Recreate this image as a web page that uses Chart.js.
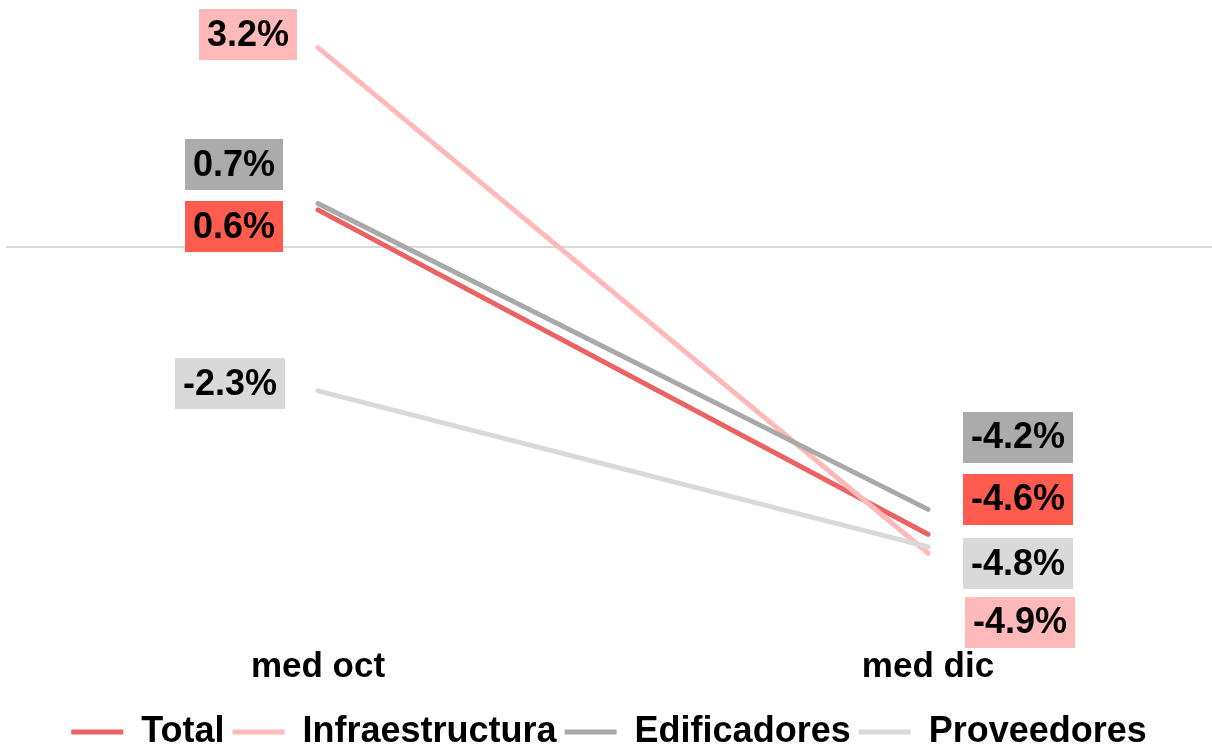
<!DOCTYPE html>
<html lang="es">
<head>
    <meta charset="UTF-8">
    <title>Variación por segmento</title>
    <script src="https://cdn.jsdelivr.net/npm/chart.js"></script>
    <style>
        html, body {
            margin: 0;
            padding: 0;
            background: #fff;
            overflow: hidden;
        }
        #wrap {
            position: relative;
            width: 1212px;
            height: 760px;
        }
    </style>
</head>
<body>
    <div id="wrap">
        <canvas id="myChart"></canvas>
    </div>

    <script>
        // data
        const categories = ['med oct', 'med dic'];
        const seriesNames = ['Total', 'Infraestructura', 'Edificadores', 'Proveedores'];
        const total = [0.6, -4.6];
        const infraestructura = [3.2, -4.9];
        const edificadores = [0.7, -4.2];
        const proveedores = [-2.3, -4.8];

        const lineColors = ['#EB6262', '#FFB9B9', '#A9A9A9', '#D9D9D9'];
        const boxColors = ['#FF5B4F', '#FFB9B9', '#ABABAB', '#D9D9D9'];

        // where each label box sits, relative to its point (box centre, px)
        const labelShift = [
            [[-84, 17], [90, -35]],
            [[-70, -13], [92, 69]],
            [[-84, -39], [90, -72]],
            [[-88, -7], [90, 17]]
        ];

        const FONT = '"Liberation Sans", Arial, sans-serif';

        const labelPlugin = {
            id: 'boxLabels',
            afterDatasetsDraw(chart) {
                const c = chart.ctx;
                c.save();
                c.font = 'bold 36px ' + FONT;
                c.textAlign = 'center';
                c.textBaseline = 'middle';
                chart.data.datasets.forEach((ds, i) => {
                    const meta = chart.getDatasetMeta(i);
                    meta.data.forEach((pt, j) => {
                        const txt = ds.data[j].y.toFixed(1) + '%';
                        const cx = pt.x + labelShift[i][j][0];
                        const cy = pt.y + labelShift[i][j][1];
                        const w = c.measureText(txt).width + 16;
                        const h = 51;
                        c.fillStyle = boxColors[i];
                        c.fillRect(Math.round(cx - w / 2), Math.round(cy - h / 2), Math.round(w), h);
                        c.fillStyle = '#000';
                        c.fillText(txt, cx, cy + 1);
                    });
                });
                c.restore();
            }
        };

        const allSeries = [total, infraestructura, edificadores, proveedores];
        const datasets = allSeries.map((vals, i) => ({
            label: seriesNames[i],
            data: vals.map((v, j) => ({ x: j, y: v })),
            borderColor: lineColors[i],
            backgroundColor: lineColors[i],
            borderWidth: 5,
            borderCapStyle: 'round',
            pointRadius: 0,
            pointHoverRadius: 0,
            tension: 0,
            order: 4 - i
        }));

        const ctx = document.getElementById('myChart').getContext('2d');
        const myChart = new Chart(ctx, {
            type: 'line',
            data: { datasets: datasets },
            options: {
                responsive: true,
                maintainAspectRatio: false,
                animation: false,
                layout: { padding: { left: 6, right: 0, top: 0, bottom: 0 } },
                plugins: {
                    tooltip: { enabled: false },
                    legend: {
                        position: 'bottom',
                        labels: {
                            usePointStyle: true,
                            pointStyle: 'line',
                            pointStyleWidth: 52,
                            color: '#000',
                            padding: 8,
                            font: { family: FONT, size: 36, weight: 'bold' },
                            sort: (a, b) => a.datasetIndex - b.datasetIndex
                        }
                    }
                },
                scales: {
                    x: {
                        type: 'linear',
                        min: -0.5115,
                        max: 1.4656,
                        afterBuildTicks: (scale) => {
                            scale.ticks = categories.map((_, i) => ({ value: i }));
                        },
                        ticks: {
                            color: '#000',
                            padding: 18,
                            font: { family: FONT, size: 35, weight: 'bold' },
                            callback: (v) => categories[v]
                        },
                        grid: { display: false },
                        border: { display: false }
                    },
                    y: {
                        min: -5.973,
                        max: 3.963,
                        ticks: { display: false, stepSize: 1 },
                        grid: {
                            drawTicks: false,
                            lineWidth: 2,
                            color: (c) => (c.tick && c.tick.value === 0 ? '#D9D9D9' : 'rgba(0,0,0,0)')
                        },
                        border: { display: false }
                    }
                }
            },
            plugins: [labelPlugin]
        });
    </script>
</body>
</html>
